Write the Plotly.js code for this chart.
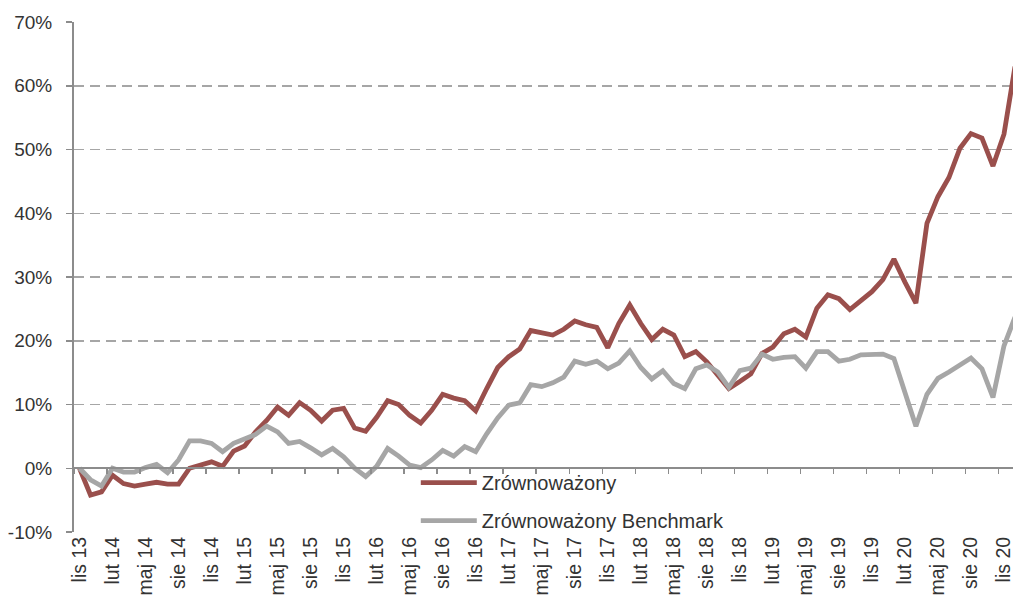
<!DOCTYPE html>
<html>
<head>
<meta charset="utf-8">
<script src="https://cdn.plot.ly/plotly-3.0.1.min.js"></script>
<style>html,body{margin:0;padding:0;background:#fff;}#chart{width:1013px;height:604px;}</style>
</head>
<body>
<div id="chart"></div>
<script>
// Monthly categories: lis 13 .. gru 20
const monthNames = ['sty','lut','mar','kwi','maj','cze','lip','sie','wrz','paź','lis','gru'];
const months = [];
for (let k = 0; k < 86; k++) {
  const m = (10 + k) % 12;
  const y = 13 + Math.floor((10 + k) / 12);
  months.push(monthNames[m] + ' ' + y);
}
const tickLabels = ['lis 13','lut 14','maj 14','sie 14','lis 14','lut 15','maj 15','sie 15','lis 15','lut 16','maj 16','sie 16','lis 16','lut 17','maj 17','sie 17','lis 17','lut 18','maj 18','sie 18','lis 18','lut 19','maj 19','sie 19','lis 19','lut 20','maj 20','sie 20','lis 20'];
const yTickVals = [-10, 0, 10, 20, 30, 40, 50, 60, 70];
const yTickText = ['-10%','0%','10%','20%','30%','40%','50%','60%','70%'];

const zrownowazony = [0,-4.2,-3.7,-1.1,-2.4,-2.8,-2.5,-2.2,-2.5,-2.5,
  0,0.5,1.0,0.3,2.7,3.5,5.7,7.5,9.6,8.3,
  10.3,9.1,7.4,9.1,9.4,6.3,5.8,8.0,10.6,10.0,
  8.3,7.1,9.1,11.6,11.0,10.6,9.0,12.5,15.8,17.5,
  18.7,21.6,21.2,20.9,21.8,23.1,22.5,22.1,18.9,22.7,
  25.6,22.7,20.2,21.8,20.9,17.5,18.3,16.7,14.6,12.5,
  13.6,14.8,18.0,19.0,21.1,21.8,20.6,25.1,27.2,26.6,
  24.9,26.3,27.7,29.6,32.8,29.2,25.9,38.4,42.6,45.6,
  50.2,52.5,51.8,47.4,52.4,63.0];
const benchmark = [0,-1.8,-2.8,0,-0.6,-0.6,0.1,0.6,-0.7,1.3,
  4.3,4.3,3.9,2.6,3.9,4.7,5.3,6.6,5.7,3.9,
  4.2,3.2,2.1,3.1,1.8,0.0,-1.3,0.3,3.1,1.9,
  0.5,0.1,1.3,2.8,1.9,3.4,2.6,5.4,7.9,9.9,
  10.25,13.1,12.8,13.4,14.3,16.8,16.3,16.8,15.6,16.5,
  18.4,15.8,14.0,15.3,13.3,12.5,15.6,16.2,15.1,12.7,
  15.3,15.7,17.9,17.1,17.4,17.5,15.7,18.3,18.3,16.8,
  17.1,17.8,17.9,17.9,17.2,12.0,6.6,11.6,14.1,15.1,
  16.3,17.3,15.6,11.1,19.2,23.7];

const seriesNames = ['Zrównoważony','Zrównoważony Benchmark'];
const colors = ['#9a4f4c','#a6a6a6'];

const FONT = 'Liberation Sans, Arial, sans-serif';
const TXT = '#333333';
const xRange = [-0.5, 84.82];
const boundaryTicks = [];
for (let k = 0; k < tickLabels.length; k++) boundaryTicks.push(3*k - 0.5);

const traces = [
  {x: months, y: zrownowazony, type: 'scatter', mode: 'lines', name: seriesNames[0],
   line: {color: colors[0], width: 4.8}, legendgroup: 'a'},
  {x: months, y: benchmark, type: 'scatter', mode: 'lines', name: seriesNames[1],
   line: {color: colors[1], width: 4.8}, legendgroup: 'b'},
  {x: [0], y: [null], xaxis: 'x2', yaxis: 'y', type: 'scatter', mode: 'lines',
   showlegend: false, hoverinfo: 'skip'}
];

const layout = {
  width: 1013, height: 604,
  margin: {l: 74, r: 0, t: 22, b: 72, pad: 0},
  paper_bgcolor: '#ffffff', plot_bgcolor: '#ffffff',
  font: {family: FONT, size: 19, color: TXT},
  showlegend: true,
  legend: {x: 0.364, y: 0.135, xanchor: 'left', yanchor: 'top',
    bgcolor: 'rgba(0,0,0,0)', traceorder: 'grouped', tracegroupgap: 9,
    itemwidth: 56, font: {family: FONT, size: 20, color: TXT}},
  xaxis: {type: 'category', range: xRange, tickmode: 'array', tickvals: tickLabels, ticktext: tickLabels,
    tickangle: -90, showgrid: false, showline: false, zeroline: false, ticks: '',
    tickfont: {family: FONT, size: 19.5, color: TXT}, fixedrange: true},
  xaxis2: {overlaying: 'x', anchor: 'free', position: 0.125, type: 'linear', range: xRange,
    tickmode: 'array', tickvals: boundaryTicks, showticklabels: false,
    ticks: 'outside', ticklen: 5, tickwidth: 1.5, tickcolor: '#8c8c8c',
    showline: true, linecolor: '#8c8c8c', linewidth: 2, showgrid: false, zeroline: false},
  yaxis: {range: [-10, 70], tickmode: 'array', tickvals: yTickVals, ticktext: yTickText,
    showline: true, linecolor: '#8c8c8c', linewidth: 2,
    ticks: 'outside', ticklen: 6, tickwidth: 1.5, tickcolor: '#8c8c8c',
    ticklabelstandoff: 10,
    showgrid: true, gridcolor: '#a6a6a6', gridwidth: 1.5, griddash: '10px,6px',
    zeroline: false, tickfont: {family: FONT, size: 19, color: TXT}}
};

Plotly.newPlot('chart', traces, layout, {staticPlot: true, displayModeBar: false});
</script>
</body>
</html>
